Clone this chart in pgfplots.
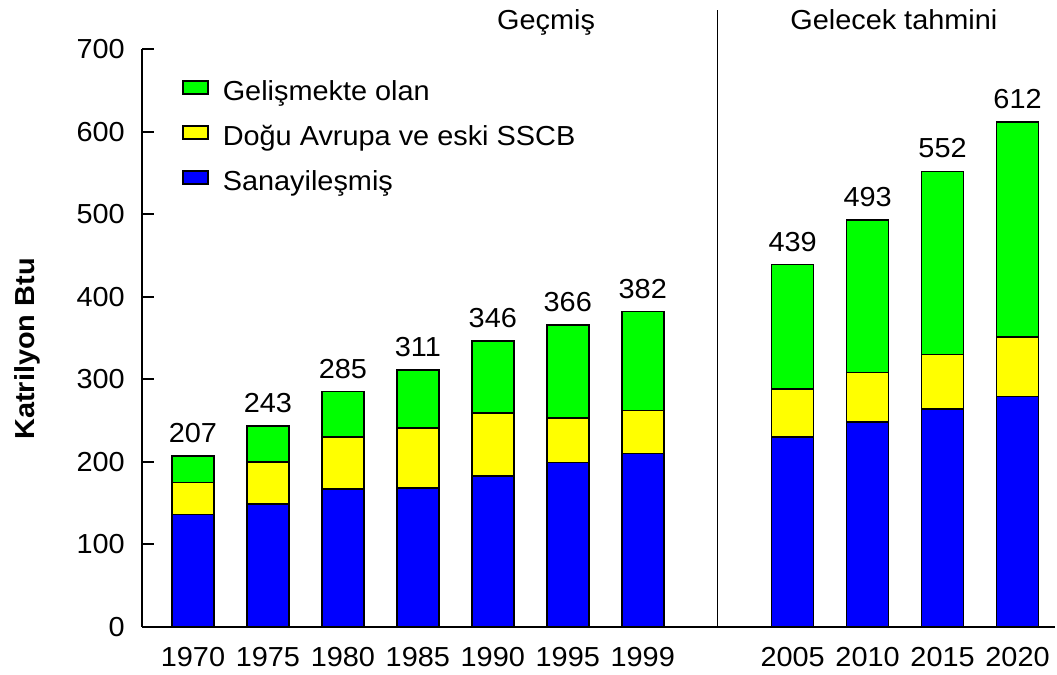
\documentclass[border=0pt]{standalone}
\usepackage{pgfplots}
\pgfplotsset{compat=1.18}
\usepackage{fontspec}
\setmainfont{Liberation Sans}[FakeStretch=1.05]
\definecolor{cblue}{RGB}{0,0,255}
\definecolor{cyellow}{RGB}{255,255,0}
\definecolor{cgreen}{RGB}{0,255,0}
\pgfplotsset{
  commonaxis/.style={
    at={(142bp,48.3bp)}, anchor=south west,
    scale only axis, width=913bp, height=577.5bp,
    xmin=-0.68, xmax=11.5, ymin=0, ymax=700,
    clip=false,
  }
}
\begin{document}
\fontsize{27.5bp}{33bp}\selectfont
\begin{tikzpicture}
\useasboundingbox (0,0) rectangle (1057bp,675bp);
\begin{axis}[
  commonaxis,
  ybar stacked, bar width=42bp,
  axis x line*=bottom, axis y line*=left,
  axis line style={line width=1.6bp, black},
  xtick={0,1,2,3,4,5,6,8,9,10,11},
  xticklabels={1970,1975,1980,1985,1990,1995,1999,2005,2010,2015,2020},
  xtick style={draw=none},
  ytick={0,100,...,700},
  tick align=inside, major tick length=12bp,
  ytick style={line width=1.6bp, black},
  /pgf/number format/assume math mode=true,
  yticklabel style={inner sep=0pt, xshift=-17bp},
  xticklabel style={inner sep=0pt, yshift=-20bp},
  every axis y label/.style={at={(rel axis cs:-0.126,0.481)}, rotate=90, anchor=center},
  ylabel={\bfseries Katrilyon Btu},
  reverse legend,
  legend cell align=left,
  legend style={at={(rel axis cs:0.0438,0.9467)}, anchor=north west, draw=none, fill=none,
    inner sep=0pt, row sep=19bp,
    nodes={inner sep=0pt, text height=20bp, text depth=6bp},
    /tikz/every odd column/.style={column sep=14bp}},
  legend image code/.code={\draw[#1, line width=1.6bp] (0bp,-1bp) rectangle (25bp,12bp);},
]
\addplot[fill=cblue, draw=black, line width=1.6bp] coordinates {
  (0,136) (1,149) (2,167) (3,168) (4,183) (5,199) (6,210)
  (8,230) (9,248) (10,264) (11,279)};
\addlegendentry{Sanayileşmiş}
\addplot[fill=cyellow, draw=black, line width=1.6bp] coordinates {
  (0,39) (1,51) (2,63) (3,73) (4,76) (5,54) (6,52)
  (8,58) (9,60) (10,66) (11,72)};
\addlegendentry{Doğu Avrupa ve eski SSCB}
\addplot[fill=cgreen, draw=black, line width=1.6bp] coordinates {
  (0,32) (1,43) (2,55) (3,70) (4,87) (5,113) (6,120)
  (8,151) (9,185) (10,222) (11,261)};
\addlegendentry{Gelişmekte olan}
\draw[line width=1.6bp, black] (axis cs:7,0) -- (axis cs:7,747.5);
\node[anchor=base] at (axis cs:4.71,724) {Geçmiş};
\node[anchor=base] at (axis cs:9.35,724) {Gelecek tahmini};
\end{axis}
\begin{axis}[
  commonaxis, hide axis,
  every node near coord/.append style={anchor=south, inner sep=0pt, yshift=13bp},
]
\addplot[draw=none, mark=none, nodes near coords, point meta=explicit symbolic] coordinates {
  (0,207) [207] (1,243) [243] (2,285) [285] (3,311) [311] (4,346) [346] (5,366) [366] (6,382) [382]
  (8,439) [439] (9,493) [493] (10,552) [552] (11,612) [612]};
\end{axis}
\end{tikzpicture}
\end{document}
